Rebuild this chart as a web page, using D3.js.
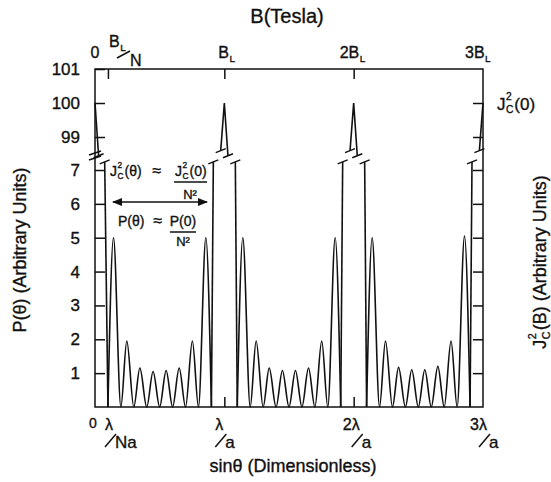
<!DOCTYPE html>
<html>
<head>
<meta charset="utf-8">
<script src="https://cdn.jsdelivr.net/npm/d3@7"></script>
<style>
  body { margin: 0; background: #fff; }
  svg { font-family: "Liberation Sans", Arial, Helvetica, sans-serif; }
  svg text { stroke: #111; stroke-width: 0.35; }
  .axis path { display: none; }
  .axis line { stroke: #111; stroke-width: 1.5; }
  .curve { fill: none; stroke: #111; stroke-width: 1.6; }
</style>
</head>
<body>
<div id="chart"></div>
<script>
// sinθ is measured in units of λ/Na (N = 10), so λ/a = 10
var principalPos = [0, 10, 20, 30];
var principalTop = 100;
// upper (broken-off) flanks of the principal maxima: [offset, value]
var upperLeftFlank = [-0.28, 98.6];
var upperRightFlank = [0.28, 98.45];
// lower flanks: where the steep line leaves the 0..7 panel
var lowerFlankTop = 7.24;
var lowerFlankOffset = [0.75, 0.85, 0.85, 0.85, 0.85, 0.85, 0.85, 0.8];

// secondary maxima between principal maxima
var zeroOffsets = [1, 2, 3, 4, 5, 6, 7, 8, 9];
var lobeOffsets = [1.43, 2.46, 3.47, 4.49, 5.5, 6.51, 7.53, 8.57];
var lobeHeights1 = [5.0, 1.95, 1.15, 1.05, 1.08, 1.15, 1.95, 5.0];
var lobeHeights2 = [5.0, 1.95, 1.15, 1.08, 1.08, 1.15, 1.95, 5.0];
var lobeHeights3 = [5.0, 1.95, 1.17, 1.1, 1.1, 1.2, 1.95, 5.05];
var lobeHeights = [lobeHeights1, lobeHeights2, lobeHeights3];

var lowerTicks = [1, 2, 3, 4, 5, 6, 7];
var upperTicks = [99, 100, 101];
var topTicks = [1, 10, 20];
var bottomTicks = [10, 20];

var svgWidth = 551;
var svgHeight = 482;

var margin = { top: 69, right: 68, bottom: 75, left: 95 };
var width = svgWidth - margin.left - margin.right;
var height = svgHeight - margin.top - margin.bottom;

var svg = d3.select("#chart")
  .append("svg")
  .attr("width", svgWidth)
  .attr("height", svgHeight);

var g = svg.append("g")
  .attr("transform", `translate(${margin.left}, ${margin.top})`);

var xScale = d3.scaleLinear().domain([0, 30]).range([0, width]);
var yLow = d3.scaleLinear().domain([0, 7]).range([height, 101]);
var yHigh = d3.scaleLinear().domain([99, 101]).range([68, 0]);

// axes (ticks point inwards)
g.append("g").attr("class", "axis")
  .call(d3.axisLeft(yLow).tickValues(lowerTicks).tickSizeInner(-10).tickSizeOuter(0)
    .tickPadding(15).tickFormat(d3.format("d")))
  .selectAll("text").attr("font-size", 17).attr("fill", "#111");

g.append("g").attr("class", "axis")
  .call(d3.axisLeft(yHigh).tickValues(upperTicks).tickSizeInner(-10).tickSizeOuter(0)
    .tickPadding(15).tickFormat(d3.format("d")))
  .selectAll("text").attr("font-size", 17).attr("fill", "#111");

g.append("g").attr("class", "axis")
  .attr("transform", `translate(${width}, 0)`)
  .call(d3.axisRight(yLow).tickValues(lowerTicks).tickSizeInner(-10).tickSizeOuter(0).tickFormat(""));

g.append("g").attr("class", "axis")
  .attr("transform", `translate(${width}, 0)`)
  .call(d3.axisRight(yHigh).tickValues([99, 100]).tickSizeInner(-10).tickSizeOuter(0).tickFormat(""));

g.append("g").attr("class", "axis")
  .call(d3.axisTop(xScale).tickValues(topTicks).tickSizeInner(-10).tickSizeOuter(0).tickFormat(""));

g.append("g").attr("class", "axis")
  .attr("transform", `translate(0, ${height})`)
  .call(d3.axisBottom(xScale).tickValues(bottomTicks).tickSizeInner(-10).tickSizeOuter(0).tickFormat(""));

// frame
g.append("rect")
  .attr("width", width).attr("height", height)
  .attr("fill", "none").attr("stroke", "#111").attr("stroke-width", 1.5);

// axis break marks on the left axis
[84, 89].forEach(function(y) {
  g.append("line")
    .attr("x1", -6).attr("y1", y + 2).attr("x2", 6).attr("y2", y - 2)
    .attr("stroke", "#111").attr("stroke-width", 1.5);
});

function slash(x, y) {
  g.append("line")
    .attr("x1", x - 5).attr("y1", y + 2).attr("x2", x + 5).attr("y2", y - 2)
    .attr("stroke", "#111").attr("stroke-width", 1.5);
}

var line = d3.line().x(d => xScale(d[0]));

// principal maxima, upper panel
principalPos.forEach(function(c) {
  var pts = [];
  if (c > 0) pts.push([c + upperLeftFlank[0], upperLeftFlank[1]]);
  pts.push([c, principalTop]);
  if (c < 30) pts.push([c + upperRightFlank[0], upperRightFlank[1]]);
  g.append("path").attr("class", "curve")
    .attr("d", line.y(d => yHigh(d[1]))(pts));
  pts.filter(d => d[1] < principalTop).forEach(d => slash(xScale(d[0]), yHigh(d[1])));
});

// lower panel: steep flanks and secondary lobes
var flankIdx = 0;
principalPos.forEach(function(c, i) {
  if (c > 0) {
    var off = lowerFlankOffset[flankIdx++];
    var pts = [[c - 1, 0], [c - off, lowerFlankTop]];
    g.append("path").attr("class", "curve").attr("d", line.y(d => yLow(d[1]))(pts));
    slash(xScale(c - off), yLow(lowerFlankTop));
  }
  if (c < 30) {
    var off2 = lowerFlankOffset[flankIdx++];
    var pts2 = [[c + off2, lowerFlankTop], [c + 1, 0]];
    g.append("path").attr("class", "curve").attr("d", line.y(d => yLow(d[1]))(pts2));
    slash(xScale(c + off2), yLow(lowerFlankTop));

    var lobe = [];
    zeroOffsets.forEach(function(z, k) {
      lobe.push([c + z, 0]);
      if (k < lobeOffsets.length) lobe.push([c + lobeOffsets[k], lobeHeights[i][k]]);
    });
    g.append("path").attr("class", "curve")
      .attr("d", d3.line().x(d => xScale(d[0])).y(d => yLow(d[1])).curve(d3.curveMonotoneX)(lobe));
  }
});

// ---- text helpers ----
function txt(parent, x, y, s, size, anchor) {
  return parent.append("text").attr("x", x).attr("y", y)
    .attr("font-size", size).attr("fill", "#111")
    .attr("text-anchor", anchor || "start").text(s);
}

// J_C^2 followed by a tail, returns the width used
function jc(parent, x, y, size, tail) {
  var j = txt(parent, x, y, "J", size);
  var w = j.node().getComputedTextLength() + 0.5;
  var sup = txt(parent, x + w, y - size * 0.58, "2", size * 0.6);
  var sub = txt(parent, x + w, y + size * 0.2, "C", size * 0.6);
  var w2 = Math.max(sup.node().getComputedTextLength(), sub.node().getComputedTextLength()) + 1;
  var t = txt(parent, x + w + w2, y, tail, size);
  return w + w2 + t.node().getComputedTextLength();
}

// B_L with optional prefix
function bl(parent, x, y, size, prefix) {
  var b = txt(parent, x, y, prefix + "B", size);
  var w = b.node().getComputedTextLength();
  txt(parent, x + w + 0.5, y + 4, "L", size * 0.62);
}

function stroke(parent, x1, y1, x2, y2) {
  parent.append("line").attr("x1", x1).attr("y1", y1).attr("x2", x2).attr("y2", y2)
    .attr("stroke", "#111").attr("stroke-width", 1.5);
}

// top labels
txt(svg, 287, 23, "B(Tesla)", 20, "middle");
txt(svg, 95, 58, "0", 16, "middle");
bl(svg, 109, 47, 16, "");
stroke(svg, 117, 58, 130, 51);
txt(svg, 130, 66, "N", 16);
bl(svg, xScale(10) + margin.left - 6, 58, 16, "");
bl(svg, xScale(20) + margin.left - 14, 58, 16, "2");
bl(svg, xScale(30) + margin.left - 18, 58, 16, "3");

// bottom labels
txt(svg, 93, 428, "0", 14, "middle");
function lamOver(xNumRight, numText, denText) {
  txt(svg, xNumRight, 430, numText, 16, "end");
  stroke(svg, xNumRight - 8, 447, xNumRight + 3, 434);
  txt(svg, xNumRight + 2, 448, denText, 17);
}
lamOver(113, "\u03bb", "Na");
lamOver(xScale(10) + margin.left - 1, "\u03bb", "a");
lamOver(xScale(20) + margin.left + 6, "2\u03bb", "a");
lamOver(xScale(30) + margin.left + 4, "3\u03bb", "a");
txt(svg, 293, 472, "sin\u03b8 (Dimensionless)", 18, "middle");

// y axis titles
txt(svg.append("g").attr("transform", "translate(26, 250) rotate(-90)"),
  0, 0, "P(\u03b8) (Arbitrary Units)", 18, "middle");

var rg = svg.append("g").attr("transform", "translate(546, 262) rotate(-90)");
var rw = jc(rg, 0, 0, 18, "(B) (Arbitrary Units)");
rg.selectAll("text").attr("x", function() { return +d3.select(this).attr("x") - rw / 2; });

// right J_C^2(0) label at the principal maximum level
jc(svg, 497, 110, 17, "(0)");

// annotations
jc(svg, 110, 176, 14, "(\u03b8)");
txt(svg, 157, 176, "\u2248", 16, "middle");
jc(svg, 175, 176, 14, "(0)");
stroke(svg, 174, 182, 207, 182);
txt(svg, 190, 199, "N\u00b2", 13, "middle");

svg.append("defs").append("marker")
  .attr("id", "ah").attr("viewBox", "0 0 10 10").attr("refX", 9).attr("refY", 5)
  .attr("markerWidth", 7).attr("markerHeight", 7).attr("orient", "auto-start-reverse")
  .append("path").attr("d", "M0,1 L10,5 L0,9 Z").attr("fill", "#111");
svg.append("line")
  .attr("x1", 113).attr("y1", 202).attr("x2", 207).attr("y2", 202)
  .attr("stroke", "#111").attr("stroke-width", 1.5)
  .attr("marker-start", "url(#ah)").attr("marker-end", "url(#ah)");

txt(svg, 118, 226, "P(\u03b8)", 14);
txt(svg, 158, 226, "\u2248", 16, "middle");
txt(svg, 183, 226, "P(0)", 14, "middle");
stroke(svg, 170, 232, 196, 232);
txt(svg, 183, 246, "N\u00b2", 13, "middle");
</script>
</body>
</html>
